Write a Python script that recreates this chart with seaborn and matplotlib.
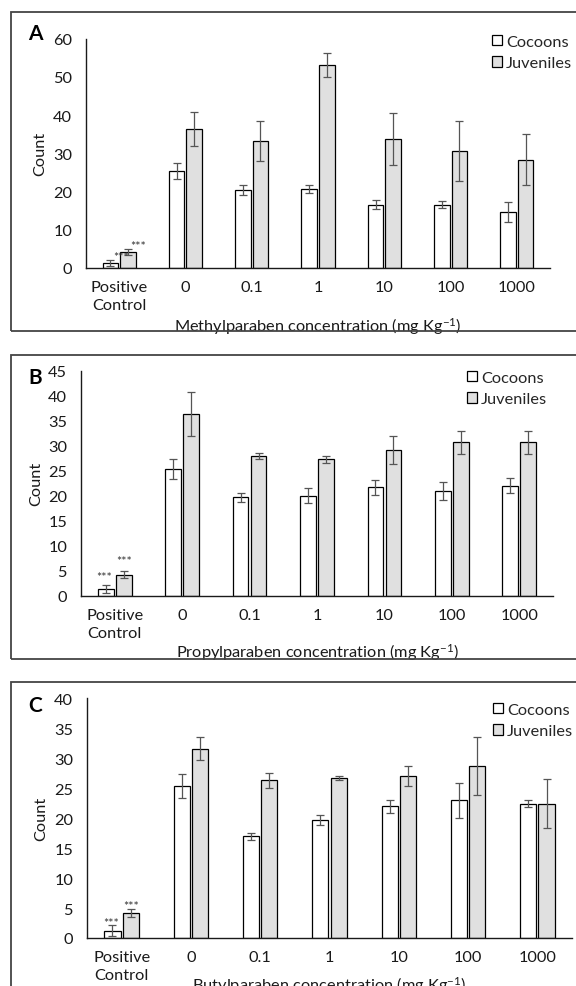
import matplotlib
matplotlib.use("Agg")
import matplotlib.pyplot as plt
import seaborn as sns
import pandas as pd
import numpy as np
from matplotlib.patches import Rectangle

# categories / series
categories = ["Positive\nControl", "0", "0.1", "1", "10", "100", "1000"]
series = ["Cocoons", "Juveniles"]

# Panel A - methylparaben
methyl_cocoons = [1.3, 25.3, 20.3, 20.7, 16.6, 16.6, 14.6]
methyl_cocoons_err = [0.8, 2.1, 1.3, 1.1, 1.2, 1.0, 2.7]
methyl_juveniles = [4.2, 36.3, 33.3, 53.0, 33.7, 30.6, 28.3]
methyl_juveniles_err = [0.7, 4.4, 5.2, 3.1, 6.7, 7.9, 6.7]

# Panel B - propylparaben
propyl_cocoons = [1.3, 25.3, 19.7, 20.0, 21.7, 21.0, 22.0]
propyl_cocoons_err = [0.8, 2.0, 0.9, 1.5, 1.5, 1.8, 1.5]
propyl_juveniles = [4.2, 36.4, 28.0, 27.3, 29.1, 30.7, 30.7]
propyl_juveniles_err = [0.7, 4.4, 0.6, 0.7, 2.8, 2.3, 2.3]

# Panel C - butylparaben
butyl_cocoons = [1.2, 25.4, 17.0, 19.7, 22.0, 23.0, 22.4]
butyl_cocoons_err = [0.9, 2.0, 0.6, 0.9, 1.1, 2.9, 0.6]
butyl_juveniles = [4.2, 31.6, 26.3, 26.7, 27.0, 28.7, 22.4]
butyl_juveniles_err = [0.7, 1.9, 1.2, 0.3, 1.7, 4.8, 4.1]

W, H = 576, 987
fig = plt.figure(figsize=(W / 100, H / 100), dpi=100)
sns.set_style("white")
plt.rcParams["font.family"] = ["Lato", "DejaVu Sans"]
plt.rcParams["mathtext.fontset"] = "custom"
plt.rcParams["mathtext.rm"] = "Lato"
plt.rcParams["mathtext.it"] = "Lato:italic"

FS = 11.8
INK = "#1a1a1a"
STAR_FS = 9


def px_rect(left, top, right, bottom):
    return [left / W, 1 - bottom / H, (right - left) / W, (bottom - top) / H]


panels = [
    dict(letter="A", cocoons=methyl_cocoons, cerr=methyl_cocoons_err,
         juv=methyl_juveniles, jerr=methyl_juveniles_err,
         xlabel="Methylparaben", ymax=60, ystep=10,
         rect=(86, 39.5, 550, 269), box=(10.5, 12.7, 332),
         letter_xy=(35, 34), legend_xy=(492, 36),
         xlabel_y=316, ylabel_x=47,
         stars=[(11, 6), (10, 7)]),
    dict(letter="B", cocoons=propyl_cocoons, cerr=propyl_cocoons_err,
         juv=propyl_juveniles, jerr=propyl_juveniles_err,
         xlabel="Propylparaben", ymax=45, ystep=5,
         rect=(81, 371.7, 553, 596.7), box=(10.5, 356, 660),
         letter_xy=(35, 377.5), legend_xy=(467, 372),
         xlabel_y=642, ylabel_x=43,
         stars=[(-2, 12), (0, 13.5)]),
    dict(letter="C", cocoons=butyl_cocoons, cerr=butyl_cocoons_err,
         juv=butyl_juveniles, jerr=butyl_juveniles_err,
         xlabel="Butylparaben", ymax=40, ystep=5,
         rect=(87, 699.3, 572, 939), box=(10.5, 683, 1100),
         letter_xy=(35, 706), legend_xy=(493, 704),
         xlabel_y=975, ylabel_x=48,
         stars=[(-1.5, 6.4), (0, 6.6)]),
]

for p in panels:
    # panel frame
    bx, btop, bbot = p["box"]
    fig.patches.append(Rectangle((bx / W, 1 - bbot / H), (W + 50 - bx) / W, (bbot - btop) / H,
                                 transform=fig.transFigure, fill=False,
                                 edgecolor="#444444", linewidth=1.3, zorder=0))

    left, top, right, bottom = p["rect"]
    ax = fig.add_axes(px_rect(left, top, right, bottom))

    df = pd.DataFrame({
        "category": categories * 2,
        "series": [series[0]] * len(categories) + [series[1]] * len(categories),
        "count": p["cocoons"] + p["juv"],
    })
    sns.barplot(data=df, x="category", y="count", hue="series", order=categories,
                hue_order=series, palette=["white", "#e0e0e0"], width=0.53, gap=0.12,
                edgecolor="black", linewidth=0.9, errorbar=None, legend=True, ax=ax)

    # error bars and significance stars
    for cont, vals, errs, (sdx, sdy) in zip(ax.containers,
                                            [p["cocoons"], p["juv"]],
                                            [p["cerr"], p["jerr"]], p["stars"]):
        xs = [b.get_x() + b.get_width() / 2 for b in cont]
        ax.errorbar(xs, vals, yerr=errs, fmt="none", ecolor="#555555",
                    elinewidth=0.9, capsize=2.6, capthick=0.9, zorder=3)
        ax.annotate("***", xy=(xs[0], vals[0] + errs[0]),
                    xytext=(sdx * 0.72, sdy * 0.72 - 0.6 * STAR_FS), textcoords="offset points",
                    ha="center", va="baseline", fontsize=STAR_FS, color="#333333", zorder=5)

    ax.set_xlim(-0.5, len(categories) - 0.5)
    ax.set_ylim(0, p["ymax"])
    ax.set_yticks(np.arange(0, p["ymax"] + 1, p["ystep"]))
    ax.tick_params(axis="y", direction="in", length=4, width=0.9, pad=10,
                   labelsize=FS, colors=INK)
    ax.set_xticks(np.arange(-0.5, len(categories)), labels=[""] * (len(categories) + 1))
    ax.set_xticks(np.arange(len(categories)), labels=categories, minor=True)
    ax.tick_params(axis="x", which="major", direction="in", length=4, width=0.9, colors=INK)
    ax.tick_params(axis="x", which="minor", length=0, pad=9, labelsize=FS, labelcolor=INK)
    for lab in ax.get_xticklabels(minor=True):
        lab.set_linespacing(1.3)

    sns.despine(ax=ax)
    for s in ["left", "bottom"]:
        ax.spines[s].set_color(INK)
        ax.spines[s].set_linewidth(1.0)

    ax.set_xlabel(p["xlabel"] + r" concentration (mg Kg$^{\mathrm{-1}}$)", fontsize=FS, color=INK)
    ax.xaxis.set_label_coords(0.5, -(p["xlabel_y"] - bottom) / (bottom - top))
    ax.set_ylabel("Count", fontsize=FS, color=INK)
    ax.yaxis.set_label_coords((p["ylabel_x"] - left) / (right - left), 0.5)

    handles, labels = ax.get_legend_handles_labels()
    ax.legend(handles, labels, loc="upper left",
              bbox_to_anchor=(p["legend_xy"][0] / W, 1 - p["legend_xy"][1] / H),
              bbox_transform=fig.transFigure, frameon=False, fontsize=FS,
              handlelength=0.6, handleheight=0.6, handletextpad=0.25,
              labelspacing=0.45, borderpad=0, borderaxespad=0)

    fig.text(p["letter_xy"][0] / W, 1 - p["letter_xy"][1] / H, p["letter"],
             fontsize=15, fontweight="bold", ha="center", va="center", color="black")

fig.savefig("out.png", dpi=100)
